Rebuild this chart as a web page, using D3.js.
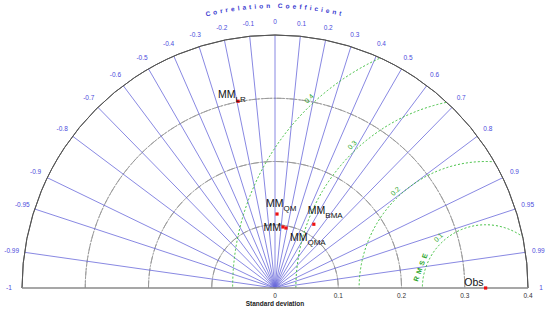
<!DOCTYPE html>
<html>
<head>
<meta charset="utf-8">
<script src="https://cdn.jsdelivr.net/npm/d3@7"></script>
<style>
  body { margin: 0; background: #fff; }
  text { font-family: "Liberation Sans", Arial, sans-serif; }
</style>
</head>
<body>
<div id="taylor"></div>
<script>
// data
var modelNames = ["Obs", "MM", "MM", "MM", "MM", "MM"];
var modelSubs = ["", "LR", "QM", "", "QMA", "BMA"];
var modelStd = [0.333, 0.301, 0.117, 0.0973, 0.0964, 0.118];
var modelCorr = [1, -0.194, 0.027, 0.13, 0.18, 0.52];

var corrTicks = [-1, -0.99, -0.95, -0.9, -0.8, -0.7, -0.6, -0.5, -0.4, -0.3, -0.2, -0.1,
  0, 0.1, 0.2, 0.3, 0.4, 0.5, 0.6, 0.7, 0.8, 0.9, 0.95, 0.99, 1];
var stdTicks = [0, 0.1, 0.2, 0.3, 0.4];
var stdCircles = [0.1, 0.2, 0.3];
var rmseLevels = [0.1, 0.2, 0.3, 0.4];

var width = 550, height = 311;
var cx = 275, cy = 288;
var maxStd = 0.4;

var svg = d3.select("#taylor").append("svg")
  .attr("width", width)
  .attr("height", height);

var r = d3.scaleLinear().domain([0, maxStd]).range([0, 253]);
var R = r(maxStd);

// polar -> screen
function px(s, c) { return cx + r(s) * c; }
function py(s, c) { return cy - r(s) * Math.sin(Math.acos(c)); }

var g = svg.append("g");

// clip to the half disc
svg.append("clipPath").attr("id", "half")
  .append("path")
  .attr("d", "M" + (cx - R) + "," + cy + " A" + R + "," + R + " 0 0 1 " + (cx + R) + "," + cy + " Z");

var arc = d3.arc().startAngle(-Math.PI / 2).endAngle(Math.PI / 2);

// std dev circles
g.selectAll(".sd")
  .data(stdCircles)
  .enter()
  .append("path")
  .attr("transform", "translate(" + cx + "," + cy + ")")
  .attr("d", function (d) { return arc({ innerRadius: r(d), outerRadius: r(d) }); })
  .style("fill", "none")
  .style("stroke", "#999")
  .style("stroke-width", "0.9px")
  .style("stroke-dasharray", "8,1.5,1.5,1.5");

// correlation rays
g.selectAll(".ray")
  .data(corrTicks.filter(function (d) { return Math.abs(d) < 1; }))
  .enter()
  .append("line")
  .attr("x1", cx).attr("y1", cy)
  .attr("x2", function (d) { return px(maxStd, d); })
  .attr("y2", function (d) { return py(maxStd, d); })
  .style("stroke", "#6a6ada")
  .style("stroke-width", "0.8px");

// RMSE circles around Obs
var obsX = px(modelStd[0], 1);
g.append("g").attr("clip-path", "url(#half)")
  .selectAll("circle")
  .data(rmseLevels)
  .enter()
  .append("circle")
  .attr("cx", obsX).attr("cy", cy)
  .attr("r", function (d) { return r(d); })
  .style("fill", "none")
  .style("stroke", "#2db82d")
  .style("stroke-width", "0.9px")
  .style("stroke-dasharray", "2,2");

// RMSE labels
var labAng = 133 * Math.PI / 180;
g.selectAll(".rmsel")
  .data(rmseLevels)
  .enter()
  .append("text")
  .attr("transform", function (d) {
    var x = obsX + (r(d) + 6) * Math.cos(labAng);
    var y = cy - (r(d) + 6) * Math.sin(labAng);
    return "translate(" + x + "," + y + ") rotate(-45)";
  })
  .attr("text-anchor", "middle")
  .attr("dy", "0.35em")
  .style("font-size", "7px")
  .style("fill", "#2aa52a")
  .text(function (d) { return d; });

g.append("text")
  .attr("transform", "translate(421,266) rotate(-70)")
  .attr("text-anchor", "middle")
  .attr("dy", "0.35em")
  .style("font-size", "7px")
  .style("font-weight", "bold")
  .style("letter-spacing", "3px")
  .style("fill", "#2aa52a")
  .text("RMSE");

// outer arc and baseline
g.append("path")
  .attr("transform", "translate(" + cx + "," + cy + ")")
  .attr("d", arc({ innerRadius: R, outerRadius: R }))
  .style("fill", "none")
  .style("stroke", "#555")
  .style("stroke-width", "1px");

g.append("line")
  .attr("x1", cx - R).attr("x2", cx + R)
  .attr("y1", cy).attr("y2", cy)
  .style("stroke", "#8a8a8a")
  .style("stroke-width", "1.5px");

// correlation labels
g.selectAll(".cl")
  .data(corrTicks)
  .enter()
  .append("text")
  .attr("x", function (d) { return cx + (R + 13) * d; })
  .attr("y", function (d) { return cy - (R + 13) * Math.sin(Math.acos(d)); })
  .attr("text-anchor", "middle")
  .attr("dy", "0.35em")
  .style("font-size", "6.5px")
  .style("fill", "#4b4bdc")
  .text(function (d) { return d; });

// curved title
svg.append("path")
  .attr("id", "titlePath")
  .attr("d", "M" + (cx - 280) + "," + cy + " A280,280 0 0 1 " + (cx + 280) + "," + cy)
  .style("fill", "none");

svg.append("text")
  .style("font-size", "6.5px")
  .style("font-weight", "bold")
  .style("letter-spacing", "3px")
  .style("fill", "#3a3ad0")
  .append("textPath")
  .attr("href", "#titlePath")
  .attr("startOffset", "50%")
  .attr("text-anchor", "middle")
  .text("Correlation  Coefficient");

// std dev tick labels
g.selectAll(".sl")
  .data(stdTicks)
  .enter()
  .append("text")
  .attr("x", function (d) { return cx + r(d); })
  .attr("y", 298)
  .attr("text-anchor", "middle")
  .style("font-size", "6.5px")
  .style("fill", "#333")
  .text(function (d) { return d; });

g.append("text")
  .attr("x", cx).attr("y", 306)
  .attr("text-anchor", "middle")
  .style("font-size", "6.5px")
  .style("font-weight", "bold")
  .style("fill", "#222")
  .text("Standard deviation");

// points
var pts = modelStd.map(function (s, i) {
  return { name: modelNames[i], sub: modelSubs[i], x: px(s, modelCorr[i]), y: py(s, modelCorr[i]) };
});

g.selectAll(".pt")
  .data(pts)
  .enter()
  .append("rect")
  .attr("x", function (d) { return d.x - 1.6; })
  .attr("y", function (d) { return d.y - 1.6; })
  .attr("width", 3.2).attr("height", 3.2)
  .style("fill", "#ee1111");

// label offsets (dx, dy, anchor) per point
var labelPos = [[-2, -2, "end"], [-20, -3, "start"], [-11, -7, "start"],
  [-2, 4, "end"], [4, 13, "start"], [-6, -10, "start"]];

var lab = g.selectAll(".lab")
  .data(pts)
  .enter()
  .append("text")
  .attr("x", function (d, i) { return d.x + labelPos[i][0]; })
  .attr("y", function (d, i) { return d.y + labelPos[i][1]; })
  .attr("text-anchor", function (d, i) { return labelPos[i][2]; })
  .style("font-size", "10.5px")
  .style("fill", "#111");

lab.append("tspan").text(function (d) { return d.name; });
lab.append("tspan")
  .attr("dy", 4)
  .style("font-size", "8px")
  .text(function (d) { return d.sub; });
</script>
</body>
</html>
